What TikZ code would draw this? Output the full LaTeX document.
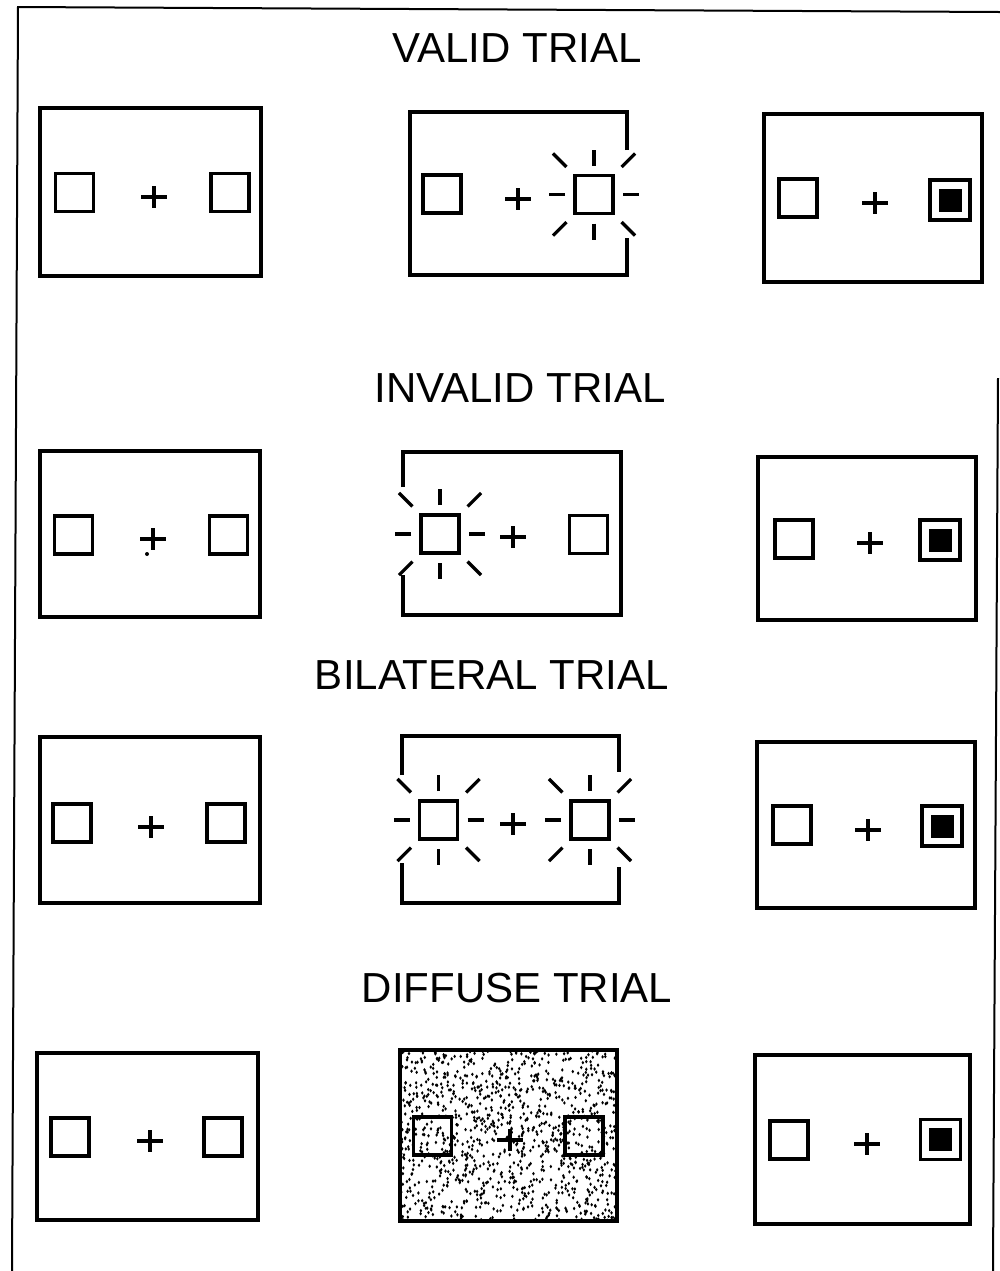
\documentclass[tikz,border=0pt]{standalone}
\usepackage{fontspec}
\setmainfont{Liberation Sans}
\tikzset{
  border/.style={line width=1pt},
  screen/.style={line width=2.1pt, line join=miter},
  cue/.style={line width=1.9pt},
  ray/.style={line width=1.6pt},
  fix/.style={line width=2pt},
  heading/.style={font=\fontsize{21}{25}\selectfont, inner sep=0pt},
  pics/stim/.style={code={\draw[cue] (-19,-19) rectangle (19,19);}},
  pics/target/.style={code={
    \draw[cue] (-20,-20) rectangle (20,20);
    \fill (-11.5,-11.5) rectangle (11.5,11.5);}},
  pics/flash/.style={code={
    \draw[cue] (-19,-19) rectangle (19,19);
    \foreach \a in {0,90,180,270} \draw[ray] (\a:29) -- (\a:45);
    \foreach \a in {45,135,225,315} \draw[ray] (\a:39) -- (\a:58);}},
  pics/fixation/.style={code={\draw[fix] (-13,0) -- (13,0) (0,-11) -- (0,11);}}
}

\begin{document}
\begin{tikzpicture}[x=0.5pt, y=-0.5pt]
  \useasboundingbox (0,0) rectangle (1000,1271);
  % page border
  \draw[border] (12,1271) -- (18,7) -- (1000,12);
  \draw[border] (998,378) -- (993,1271);

  % valid trial
  \node[heading] (valid) at (517,48) {VALID TRIAL};
  \draw[screen] (40,108) rectangle (261,276);
  \pic at (74.5,192.5) {stim};
  \pic at (154,197) {fixation};
  \pic at (230,192.5) {stim};
  \draw[screen] (627,150) -- (627,112) -- (410,112) -- (410,275) -- (627,275) -- (627,238);
  \pic at (442,194) {stim};
  \pic at (518,199) {fixation};
  \pic at (594,194.5) {flash};
  \draw[screen] (764,114) rectangle (982,282);
  \pic at (798,198) {stim};
  \pic at (875,203) {fixation};
  \pic at (950,200) {target};

  % invalid trial
  \node[heading] (invalid) at (520,388) {INVALID TRIAL};
  \draw[screen] (40,451) rectangle (260,617);
  \pic at (73.5,535) {stim};
  \pic at (153,539) {fixation};
  \fill (147,554) circle[radius=2];
  \pic at (228.5,535) {stim};
  \draw[screen] (403,487) -- (403,452) -- (621,452) -- (621,615) -- (403,615) -- (403,575);
  \pic at (440,534) {flash};
  \pic at (513,537) {fixation};
  \pic at (588.5,534.5) {stim};
  \draw[screen] (758,457) rectangle (976,620);
  \pic at (794,539) {stim};
  \pic at (870,543) {fixation};
  \pic at (940,540) {target};

  % bilateral trial
  \node[heading] (bilateral) at (492,675) {BILATERAL TRIAL};
  \draw[screen] (40,737) rectangle (260,903);
  \pic at (72,823) {stim};
  \pic at (151,827) {fixation};
  \pic at (226,823) {stim};
  \draw[screen] (402,775) -- (402,736) -- (619,736) -- (619,772);
  \draw[screen] (402,863) -- (402,903) -- (619,903) -- (619,867);
  \pic at (438.5,820) {flash};
  \pic at (513,824) {fixation};
  \pic at (590,820) {flash};
  \draw[screen] (757,742) rectangle (975,908);
  \pic at (792,825) {stim};
  \pic at (868,830) {fixation};
  \pic at (942,826) {target};

  % diffuse trial
  \node[heading] (diffuse) at (517,988) {DIFFUSE TRIAL};
  \draw[screen] (37,1053) rectangle (258,1220);
  \pic at (70,1137) {stim};
  \pic at (150,1141) {fixation};
  \pic at (223,1137) {stim};
  \begin{scope}
    \clip (400,1050) rectangle (617,1221);
    \pgfmathsetseed{11}
    \foreach \i in {1,...,1150}{
      \pgfmathsetmacro\dx{400+217*rnd}
      \pgfmathsetmacro\dy{1050+171*rnd}
      \fill (\dx,\dy) ellipse[x radius=1.3, y radius=1.8];
    }
  \end{scope}
  \draw[screen] (400,1050) rectangle (617,1221);
  \pic at (432.5,1136) {stim};
  \pic at (510,1140) {fixation};
  \pic at (584,1136) {stim};
  \draw[screen] (755,1055) rectangle (970,1224);
  \pic at (789,1140) {stim};
  \pic at (867,1144) {fixation};
  \pic at (940.5,1139.5) {target};
\end{tikzpicture}
\end{document}
